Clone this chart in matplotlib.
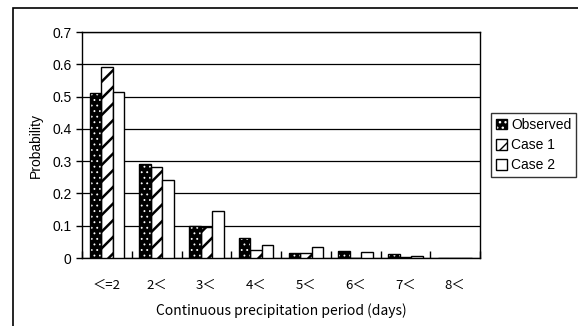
import numpy as np
import matplotlib
matplotlib.use("Agg")
import matplotlib.pyplot as plt
from matplotlib.patches import Patch, Rectangle

# data
categories = ["＜=2", "2＜", "3＜", "4＜", "5＜", "6＜", "7＜", "8＜"]
observed = [0.510, 0.291, 0.099, 0.062, 0.015, 0.021, 0.012, 0.0]
case1 = [0.592, 0.281, 0.095, 0.025, 0.015, 0.001, 0.002, 0.0]
case2 = [0.513, 0.241, 0.146, 0.041, 0.035, 0.020, 0.005, 0.0]
series_names = ["Observed", "Case 1", "Case 2"]


def main():
    plt.rcParams['font.family'] = ['Liberation Sans', 'Noto Sans CJK JP', 'DejaVu Sans']

    fig = plt.figure(figsize=(5.78, 3.26), dpi=100)
    ax = fig.add_axes([82 / 578, 68 / 326, 398 / 578, 226 / 326])

    x = np.arange(len(categories))
    w = 0.23

    # observed: black with small white dots, black outline on top
    with plt.rc_context({'hatch.linewidth': 0.6}):
        ax.bar(x - w, observed, w, color='black', edgecolor='white', hatch='...', linewidth=0, zorder=3)
        h_obs_fill = Patch(facecolor='black', edgecolor='white', hatch='...', linewidth=0)
    ax.bar(x - w, observed, w, facecolor='none', edgecolor='black', linewidth=1.0, zorder=4)
    # case 1: diagonal stripes
    with plt.rc_context({'hatch.linewidth': 1.8}):
        ax.bar(x, case1, w, color='white', edgecolor='black', hatch='//', linewidth=1.0, zorder=3)
        h_c1 = Patch(facecolor='white', edgecolor='black', hatch='//', linewidth=1.0)
    # case 2: plain white
    ax.bar(x + w, case2, w, color='white', edgecolor='black', linewidth=1.0, zorder=3)

    ax.set_xlim(-0.5, len(categories) - 0.5)
    ax.set_ylim(0, 0.7)
    ax.set_yticks(np.arange(0, 0.71, 0.1))
    ax.set_yticklabels(["0", "0.1", "0.2", "0.3", "0.4", "0.5", "0.6", "0.7"], fontsize=10)
    ax.yaxis.grid(True, color='black', linewidth=0.9)
    ax.set_axisbelow(True)

    ax.set_xticks(x)
    ax.set_xticklabels(categories, fontsize=9.5, family=['Noto Sans CJK JP', 'DejaVu Sans'])
    ax.tick_params(axis='x', length=0, pad=15)
    ax.set_xticks(np.arange(-0.5, len(categories)), minor=True)
    ax.tick_params(axis='x', which='minor', direction='in', length=5, width=1)
    ax.tick_params(axis='y', length=4, width=1, direction='out')

    for s in ax.spines.values():
        s.set_linewidth(1.0)
        s.set_color('black')

    ax.set_ylabel('Probability', fontsize=10)
    ax.yaxis.set_label_coords(-0.098, 0.5)
    ax.set_xlabel('Continuous precipitation period (days)', fontsize=10,
                  family=['Noto Sans CJK JP', 'DejaVu Sans'], labelpad=8)

    # legend
    h_obs = (h_obs_fill, Patch(facecolor='none', edgecolor='black', linewidth=1.0))
    h_c2 = Patch(facecolor='white', edgecolor='black', linewidth=1.0)
    leg = fig.legend([h_obs, h_c1, h_c2], series_names, loc='upper left',
                     bbox_to_anchor=(491 / 578, 1 - 113 / 326), frameon=True,
                     fancybox=False, fontsize=10, handlelength=0.8, handleheight=0.8,
                     handletextpad=0.3, borderpad=0.35, labelspacing=0.45, borderaxespad=0)
    leg.get_frame().set_edgecolor('black')
    leg.get_frame().set_linewidth(1.0)

    # outer chart frame
    fig.patches.append(Rectangle((13 / 578, -0.1), 1.0, 1.1 - 8 / 326,
                                 transform=fig.transFigure, fill=False,
                                 edgecolor='black', linewidth=1.2))

    fig.savefig('out.png', dpi=100)


if __name__ == "__main__":
    main()
